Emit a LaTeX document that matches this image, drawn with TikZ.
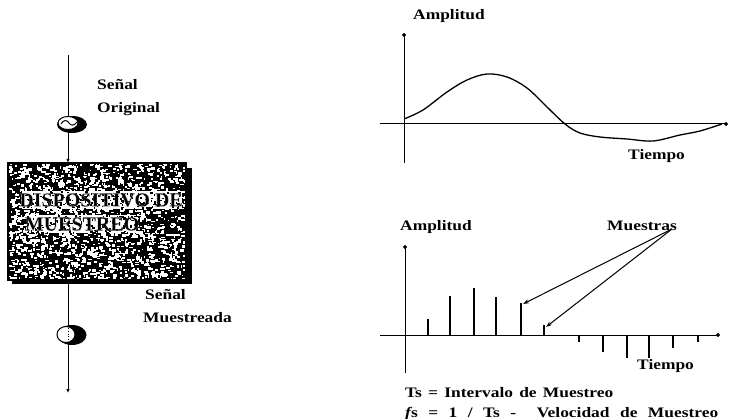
\documentclass[tikz,border=0pt]{standalone}
\usepackage{fontspec}
\setmainfont{Liberation Serif}
\newfontfamily\lblfont[FakeStretch=1.2]{Liberation Serif}
\usetikzlibrary{arrows.meta,shapes.geometric,backgrounds}
\newcommand\halotext[1]{\special{pdf:literal direct 1 1 1 RG 0.04 w 2 Tr}#1\special{pdf:literal direct 0 Tr 0 0 0 RG}}
\begin{document}
\begin{tikzpicture}[x=1pt,y=-1pt,
  lbl/.style={font=\lblfont\bfseries\fontsize{14.5}{17}\selectfont, inner sep=0pt, anchor=base west},
  boxtext/.style={font=\bfseries\fontsize{20}{22}\selectfont, inner sep=0pt},
  flow/.style={line width=0.9pt},
  flowtip/.style={-{Latex[length=4pt,width=3.5pt]}},
  axis/.style={line width=1pt, -{Circle[length=4pt]}},
  curve/.style={line width=1.3pt},
  stem/.style={line width=1.6pt},
  ptr/.style={line width=1pt, -{Stealth[length=6pt,width=4pt]}},
  icon/.style={ellipse, draw, line width=1pt, fill=white, inner sep=0pt}]
\useasboundingbox (0,0) rectangle (730,419);

% ---------------- left: sampling device ----------------
\node[minimum width=178pt, minimum height=117pt, inner sep=0pt] (box) at (97,221.5) {};
\fill (8,163) rectangle (186,280);
\pgfmathsetseed{11}
\begin{scope}
  \clip (8,163) rectangle (186,280);
  \foreach \i in {1,...,1900}{
    \pgfmathsetmacro{\px}{8+178*rnd}
    \pgfmathsetmacro{\py}{163+117*rnd}
    \pgfmathsetmacro{\pw}{1+3*rnd}
    \pgfmathsetmacro{\ph}{1+2*rnd}
    \fill[white] (\px,\py) rectangle ++(\pw,\ph);
  }
  % lighter bands behind the lettering
  \fill[white] (22,191) rectangle (182,209);
  \fill[white] (29,215) rectangle (136,233);
  \foreach \i in {1,...,200}{
    \pgfmathsetmacro{\px}{22+160*rnd}
    \pgfmathsetmacro{\py}{191+18*rnd}
    \pgfmathsetmacro{\pw}{0.8+2*rnd}
    \pgfmathsetmacro{\ph}{0.8+1.5*rnd}
    \fill (\px,\py) rectangle ++(\pw,\ph);
  }
  \foreach \i in {1,...,130}{
    \pgfmathsetmacro{\px}{29+107*rnd}
    \pgfmathsetmacro{\py}{215+18*rnd}
    \pgfmathsetmacro{\pw}{0.8+2*rnd}
    \pgfmathsetmacro{\ph}{0.8+1.5*rnd}
    \fill (\px,\py) rectangle ++(\pw,\ph);
  }
\end{scope}
\draw[line width=1.2pt] (8,163) rectangle (186,280);
\fill (186,168) rectangle (192,284);
\fill (12,280) rectangle (192,284);
\node[boxtext] (dtxt) at (101,200) {\halotext{DISPOSITIVO DE}};
\node[boxtext] (mtxt) at (82,224) {\halotext{MUESTREO}};

\coordinate (srcTop) at (68,55);
\coordinate (sinkBot) at (68,393);

% upper icon (original signal)
\fill (72,124.5) ellipse [x radius=15, y radius=8.5];
\node[icon, minimum width=20pt, minimum height=13pt] (icon1) at (68,123) {};
\draw[line width=1pt] (61,124) .. controls (64,119) and (67,120) .. (69,123)
      .. controls (71,126) and (74,126) .. (77,122);
% lower icon (sampled signal)
\fill (72,335) ellipse [x radius=14.5, y radius=10];
\node[icon, minimum width=18pt, minimum height=16pt] (icon2) at (66,334.5) {};
\draw[line width=0.8pt, dotted] (68,328) -- (68,342);

\begin{scope}[on background layer]
  \draw[flow,flowtip] (srcTop) -- (srcTop |- box.north);
  \draw[flow,flowtip] (srcTop |- box.south) -- (sinkBot);
\end{scope}

\node[lbl] (s1) at (97,90) {Señal};
\node[lbl] (o1) at (97,113) {Original};
\node[lbl] (s2) at (145,300) {Señal};
\node[lbl] (m2) at (143,323) {Muestreada};

% ---------------- right top: original signal ----------------
\coordinate (y1b) at (404,163);
\coordinate (y1t) at (404,33);
\coordinate (x1l) at (380,124);
\coordinate (x1r) at (728,124);
\draw[axis] (y1b) -- (y1t);
\draw[axis] (x1l) -- (x1r);
\draw[curve] plot[smooth, tension=0.55] coordinates {
  (404,119) (423,110) (447,92) (467,80) (487,74) (507,77) (527,88)
  (547,107) (565,124) (580,133) (600,137) (627,139) (653,141)
  (680,135) (700,131) (722,124)};
\node[lbl] (amp1) at (413,20) {Amplitud};
\node[lbl] (tie1) at (628,160) {Tiempo};

% ---------------- right bottom: sampled signal ----------------
\coordinate (y2b) at (405,373);
\coordinate (y2t) at (405,245);
\coordinate (x2l) at (380,335);
\coordinate (x2r) at (720,335);
\draw[axis] (y2b) -- (y2t);
\draw[axis] (x2l) -- (x2r);
\foreach \x/\y in {428/319,450/296,474/288,496/297,521/303,544/325,
                   579/342,603/352,627/358,649/358,673/348,698/342}{
  \draw[stem] (\x,335) -- (\x,\y);
}
\coordinate (s5) at (523,304);
\coordinate (s6) at (546,327);
\node[lbl] (amp2) at (400,231) {Amplitud};
\node[lbl] (mue) at (607,231) {Muestras};
\coordinate (mst) at (672,229);
\draw[ptr] (mst) -- (s5);
\draw[ptr] (mst) -- (s6);
\node[lbl] (tie2) at (637,369) {Tiempo};
\node[lbl] (ts) at (405,397) {\makebox[208pt][s]{Ts = Intervalo de Muestreo}};
\node[lbl] (fs) at (405,417) {\makebox[313pt][s]{\itshape f\upshape s = 1 / Ts -\hspace{10pt} Velocidad de Muestreo}};
\end{tikzpicture}
\end{document}
